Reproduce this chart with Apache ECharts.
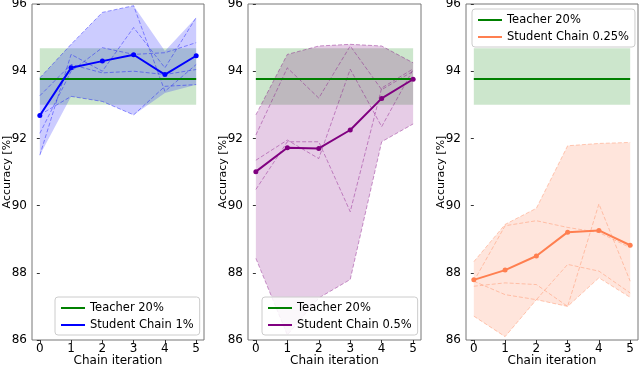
<!DOCTYPE html>
<html>
<head>
<meta charset="utf-8">
<script src="https://cdn.jsdelivr.net/npm/echarts@6/dist/echarts.min.js"></script>
<style>
  html, body { margin: 0; padding: 0; background: #fff; }
  #chart { width: 640px; height: 365px; }
</style>
</head>
<body>
<div id="chart"></div>
<script>
var chart = echarts.init(document.getElementById('chart'));

var iterations = [0, 1, 2, 3, 4, 5];

// teacher (same in every panel): mean line and band
var teacherAcc = [93.77, 93.77, 93.77, 93.77, 93.77, 93.77];
var teacherHigh = [94.68, 94.68, 94.68, 94.68, 94.68, 94.68];
var teacherLow = [93.0, 93.0, 93.0, 93.0, 93.0, 93.0];

// student chain 1%
var mean1 = [92.68, 94.1, 94.3, 94.49, 93.9, 94.46];
var high1 = [93.8, 94.8, 95.75, 95.95, 94.6, 95.6];
var low1 = [91.5, 93.25, 93.1, 92.7, 93.35, 93.6];
var runs1 = [
  [91.5, 94.5, 94.0, 95.3, 94.1, 95.6],
  [93.8, 94.8, 95.75, 95.95, 93.4, 94.2],
  [92.15, 94.0, 94.7, 94.5, 94.55, 94.85],
  [93.27, 94.2, 93.95, 94.0, 93.9, 94.05],
  [92.7, 93.25, 93.1, 92.7, 93.55, 93.6]
];

// student chain 0.5%
var mean2 = [91.01, 91.72, 91.7, 92.25, 93.19, 93.76];
var high2 = [92.7, 94.5, 94.75, 94.8, 94.75, 94.25];
var low2 = [88.43, 86.15, 87.25, 87.8, 91.9, 92.43];
var runs2 = [
  [92.7, 94.5, 94.75, 94.8, 94.75, 94.25],
  [92.1, 94.1, 93.2, 94.75, 93.45, 94.0],
  [91.35, 91.95, 91.4, 94.06, 92.35, 94.05],
  [90.48, 91.9, 91.9, 89.82, 93.5, 94.07],
  [88.43, 86.15, 87.25, 87.8, 91.9, 92.43]
];

// student chain 0.25%
var mean3 = [87.79, 88.08, 88.5, 89.21, 89.26, 88.82];
var high3 = [88.33, 89.44, 89.92, 91.78, 91.85, 91.88];
var low3 = [86.71, 86.1, 87.2, 87.0, 87.85, 87.27];
var runs3 = [
  [88.33, 89.44, 89.92, 91.78, 91.85, 91.88],
  [86.71, 86.1, 87.2, 87.0, 87.85, 87.27],
  [87.75, 89.4, 89.55, 89.35, 89.2, 88.75],
  [87.6, 87.7, 87.65, 87.0, 90.05, 87.75],
  [87.75, 87.35, 87.2, 88.25, 88.05, 87.4]
];

var font = 'DejaVu Sans';

var panels = [
  { left: 32, width: 172, color: '#0000ff', fill: 'rgba(0,0,255,0.2)', name: 'Student Chain 1%',
    mean: mean1, high: high1, low: low1, runs: runs1, legend: { left: 55, top: 297 } },
  { left: 248, width: 173, color: '#800080', fill: 'rgba(128,0,128,0.2)', name: 'Student Chain 0.5%',
    mean: mean2, high: high2, low: low2, runs: runs2, legend: { left: 262, top: 297 } },
  { left: 466, width: 172, color: '#ff7f50', fill: 'rgba(255,127,80,0.2)', name: 'Student Chain 0.25%',
    mean: mean3, high: high3, low: low3, runs: runs3, legend: { left: 472, top: 9 } }
];

function pairs(ys) {
  return iterations.map(function (x, i) { return [x, ys[i]]; });
}

function bandSeries(idx, high, low, fill, z) {
  return {
    type: 'custom',
    xAxisIndex: idx,
    yAxisIndex: idx,
    silent: true,
    z: z,
    data: [[0, high[0]]],
    renderItem: function (params, api) {
      var pts = [];
      iterations.forEach(function (x, i) { pts.push(api.coord([x, high[i]])); });
      for (var i = iterations.length - 1; i >= 0; i--) {
        pts.push(api.coord([iterations[i], low[i]]));
      }
      return { type: 'polygon', shape: { points: pts }, style: { fill: fill } };
    }
  };
}

var grids = [], xAxes = [], yAxes = [], legends = [], series = [];

panels.forEach(function (p, idx) {
  grids.push({ left: p.left, top: 4, width: p.width, height: 336, show: true,
    outerBoundsMode: 'none', containLabel: false,
    borderColor: '#777', borderWidth: 1, backgroundColor: 'transparent' });

  xAxes.push({
    type: 'value', gridIndex: idx, min: -0.25, max: 5.25,
    name: 'Chain iteration', nameLocation: 'middle', nameGap: 15, nameMoveOverlap: false,
    nameTextStyle: { fontFamily: font, fontSize: 12, color: '#000', verticalAlign: 'top' },
    axisLine: { show: false },
    splitLine: { show: false },
    axisTick: { show: true, length: 3, lineStyle: { color: '#333' }, customValues: iterations },
    axisLabel: { fontFamily: font, fontSize: 12, color: '#000', margin: 3, customValues: iterations }
  });

  yAxes.push({
    type: 'value', gridIndex: idx, min: 86, max: 96, interval: 2,
    name: 'Accuracy [%]', nameLocation: 'middle', nameGap: 19, nameMoveOverlap: false,
    nameTextStyle: { fontFamily: font, fontSize: 11, color: '#000' },
    axisLine: { show: false },
    splitLine: { show: false },
    axisTick: { show: true, length: 3, lineStyle: { color: '#333' } },
    axisLabel: { fontFamily: font, fontSize: 12, color: '#000', margin: 5 }
  });

  legends.push({
    left: p.legend.left, top: p.legend.top, orient: 'vertical',
    data: ['Teacher 20%', p.name],
    icon: 'rect', itemWidth: 24, itemHeight: 2, itemGap: 5,
    padding: [5, 6, 4, 6],
    borderColor: '#ccc', borderWidth: 1, borderRadius: 3,
    backgroundColor: 'rgba(255,255,255,0.85)',
    textStyle: { fontFamily: font, fontSize: 11.5, color: '#000' },
    selectedMode: false
  });

  series.push(bandSeries(idx, teacherHigh, teacherLow, 'rgba(0,128,0,0.2)', 1));
  series.push(bandSeries(idx, p.high, p.low, p.fill, 2));

  p.runs.forEach(function (run) {
    series.push({
      type: 'line', xAxisIndex: idx, yAxisIndex: idx, z: 3,
      data: pairs(run), symbol: 'none', silent: true,
      lineStyle: { color: p.color, width: 0.8, type: [4, 2], opacity: 0.5 }
    });
  });

  series.push({
    name: 'Teacher 20%', type: 'line', xAxisIndex: idx, yAxisIndex: idx, z: 4,
    data: pairs(teacherAcc), symbol: 'none', color: '#008000',
    lineStyle: { color: '#008000', width: 2 }
  });

  series.push({
    name: p.name, type: 'line', xAxisIndex: idx, yAxisIndex: idx, z: 5,
    data: pairs(p.mean), symbol: 'circle', symbolSize: 5, color: p.color,
    itemStyle: { color: p.color },
    lineStyle: { color: p.color, width: 2 }
  });
});

var option = {
  animation: false,
  grid: grids,
  xAxis: xAxes,
  yAxis: yAxes,
  legend: legends,
  series: series
};

chart.setOption(option);
</script>
</body>
</html>
